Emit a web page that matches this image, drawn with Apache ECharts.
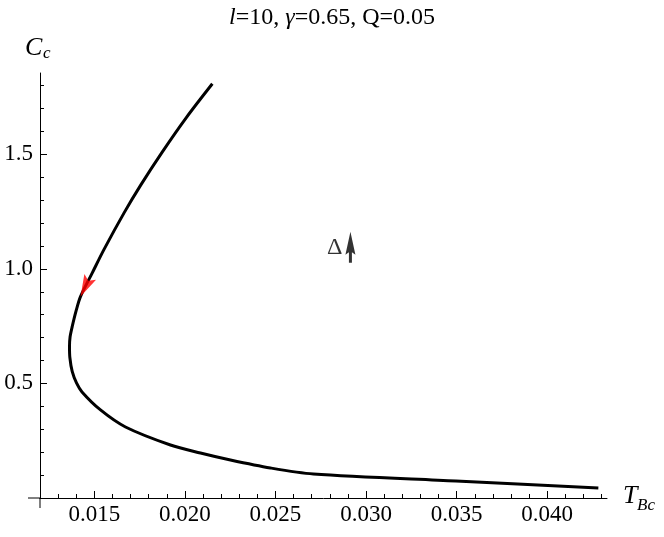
<!DOCTYPE html>
<html><head><meta charset="utf-8">
<script src="https://cdn.jsdelivr.net/npm/echarts@6/dist/echarts.min.js"></script>
<style>html,body{margin:0;padding:0;background:#fff}#c{width:664px;height:537px}</style>
</head><body><div id="c"></div>
<script>
// Curve: T_Bc (x) and C_c (y)
const curveT = [0.021514, 0.020068, 0.018755, 0.017568, 0.016641, 0.015521, 0.014886, 0.014235, 0.013992, 0.013777, 0.013660, 0.013628, 0.013650, 0.013777, 0.014014, 0.014318, 0.015339, 0.016719, 0.019202, 0.020858, 0.022513, 0.024721, 0.027094, 0.034958, 0.042823];
const curveC = [1.8079, 1.6594, 1.5109, 1.3668, 1.2445, 1.0830, 0.9825, 0.8790, 0.8166, 0.7480, 0.7030, 0.6607, 0.6120, 0.5524, 0.5022, 0.4629, 0.3843, 0.3100, 0.2314, 0.1965, 0.1659, 0.1310, 0.1048, 0.0742, 0.0437];
// Axis ticks
const xMajorTicks = [0.015, 0.020, 0.025, 0.030, 0.035, 0.040];
const xMinorTicks = [0.013, 0.014, 0.016, 0.017, 0.018, 0.019, 0.021, 0.022, 0.023, 0.024, 0.026, 0.027, 0.028, 0.029, 0.031, 0.032, 0.033, 0.034, 0.036, 0.037, 0.038, 0.039, 0.041, 0.042, 0.043];
const yMajorTicks = [0.5, 1.0, 1.5];
const yMinorTicks = [0.1, 0.2, 0.3, 0.4, 0.6, 0.7, 0.8, 0.9, 1.1, 1.2, 1.3, 1.4, 1.6, 1.7, 1.8];
const xRange = [0.012, 0.0433];
const yRange = [0, 1.855];
// Annotations
const redArrowPoint = [0.014506, 0.9223];
const deltaArrowPoint = [0.029136, 1.094];
const titleText = '{i|l}=10, {i|γ}=0.65, Q=0.05';

const FONT = 'Liberation Serif';
const chart = echarts.init(document.getElementById('c'), null, {renderer: 'canvas'});

const gridBox = {left: 40, top: 73, width: 567, height: 425, outerBoundsMode: 'none', containLabel: false};

const option = {
  animation: false,
  backgroundColor: '#fff',
  title: {
    text: titleText, left: 'center', top: 1,
    textStyle: {fontFamily: FONT, fontSize: 24, fontWeight: 'normal', color: '#000',
      rich: {i: {fontFamily: FONT, fontSize: 24, fontStyle: 'italic', color: '#000'}}}
  },
  grid: [Object.assign({}, gridBox), Object.assign({}, gridBox)],
  xAxis: [
    {type: 'value', gridIndex: 0, min: xRange[0], max: xRange[1], position: 'bottom',
     axisLine: {show: true, onZero: false, lineStyle: {color: '#000', width: 1}},
     axisTick: {show: true, inside: true, length: 7, customValues: xMajorTicks, lineStyle: {color: '#000', width: 1}},
     axisLabel: {show: true, customValues: xMajorTicks, formatter: v => v.toFixed(3), fontFamily: FONT, fontSize: 23, color: '#000', margin: 5},
     splitLine: {show: false}},
    {type: 'value', gridIndex: 1, min: xRange[0], max: xRange[1], position: 'bottom',
     axisLine: {show: false, onZero: false},
     axisTick: {show: true, inside: true, length: 4, customValues: xMinorTicks, lineStyle: {color: '#000', width: 1}},
     axisLabel: {show: false}, splitLine: {show: false}}
  ],
  yAxis: [
    {type: 'value', gridIndex: 0, min: yRange[0], max: yRange[1], position: 'left',
     axisLine: {show: true, onZero: false, lineStyle: {color: '#000', width: 1}},
     axisTick: {show: true, inside: true, length: 7, customValues: yMajorTicks, lineStyle: {color: '#000', width: 1}},
     axisLabel: {show: true, customValues: yMajorTicks, formatter: v => v.toFixed(1), fontFamily: FONT, fontSize: 23, color: '#000', margin: 7},
     splitLine: {show: false}},
    {type: 'value', gridIndex: 1, min: yRange[0], max: yRange[1], position: 'left',
     axisLine: {show: false, onZero: false},
     axisTick: {show: true, inside: true, length: 4, customValues: yMinorTicks, lineStyle: {color: '#000', width: 1}},
     axisLabel: {show: false}, splitLine: {show: false}}
  ],
  series: [
    {type: 'line', xAxisIndex: 0, yAxisIndex: 0, showSymbol: false, smooth: 0.3,
     lineStyle: {color: '#000', width: 3}, data: curveT.map((t, i) => [t, curveC[i]]), z: 3},
    {type: 'scatter', xAxisIndex: 0, yAxisIndex: 0, data: [redArrowPoint],
     symbol: 'path://M6,0 L12,20 L6,16 L0,20 Z', symbolSize: [13, 22], symbolRotate: 154,
     itemStyle: {color: '#ff0000'}, z: 4},
    {type: 'scatter', xAxisIndex: 0, yAxisIndex: 0, data: [deltaArrowPoint],
     symbol: 'path://M5,0 L10,23 L6.5,20.5 L6.5,31 L3.5,31 L3.5,20.5 L0,23 Z', symbolSize: [10, 31],
     itemStyle: {color: '#000'},
     label: {show: true, position: 'left', distance: 3, formatter: 'Δ', fontFamily: FONT, fontSize: 24, color: '#000'}, z: 4}
  ]
};
chart.setOption(option);

const o = chart.convertToPixel({gridIndex: 0}, [xRange[0], yRange[0]]);
chart.setOption({
  graphic: [
    {type: 'line', shape: {x1: o[0] - 12, y1: o[1], x2: o[0], y2: o[1]}, style: {stroke: '#000', lineWidth: 1}},
    {type: 'line', shape: {x1: o[0], y1: o[1], x2: o[0], y2: o[1] + 10}, style: {stroke: '#000', lineWidth: 1}},
    {type: 'text', x: 623, y: 483, style: {text: 'T', font: 'italic 26px "Liberation Serif"', fill: '#000'}},
    {type: 'text', x: 637, y: 497, style: {text: 'Bc', font: 'italic 17px "Liberation Serif"', fill: '#000'}},
    {type: 'text', x: 25, y: 35, style: {text: 'C', font: 'italic 26px "Liberation Serif"', fill: '#000'}},
    {type: 'text', x: 43, y: 45, style: {text: 'c', font: 'italic 17px "Liberation Serif"', fill: '#000'}}
  ]
});
</script></body></html>
